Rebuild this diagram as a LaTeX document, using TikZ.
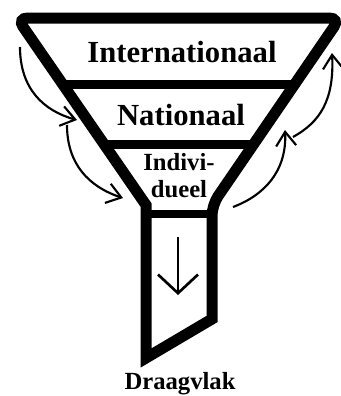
\documentclass[tikz,border=0pt]{standalone}
\usepackage{fontspec}
\setmainfont{Liberation Serif}
\usetikzlibrary{arrows.meta,bending,calc}

\begin{document}
\begin{tikzpicture}[x=0.75pt,y=-0.75pt,
  funnel/.style={line width=8.25pt,line join=miter},
  divider/.style={line width=6.75pt},
  neck/.style={line width=6pt},
  flow/.style={line width=1.6pt,-{Straight Barb[length=10.5pt,width=15pt]}},
  sink/.style={line width=2pt,-{Straight Barb[length=14pt,width=30pt]}},
  layer/.style={inner sep=0pt,font=\bfseries\fontsize{23}{26}\selectfont},
  sublayer/.style={inner sep=0pt,align=center,font=\bfseries\fontsize{18.5}{20.25}\selectfont}]
\path[use as bounding box] (0,0) rectangle (341,396);
\fill[white] (0,0) rectangle (341,396);
\coordinate (tl) at (17,18);
\coordinate (tr) at (340,18);
\coordinate (rb) at (212,205);
\coordinate (sr) at (212,319);
\coordinate (sl) at (146,358);
\coordinate (lb) at (146,205);
\draw[funnel] ($(tl)!0.5!(tr)$) [rounded corners=8pt] -- (tr) -- (rb) [sharp corners] -- (sr) -- (sl) -- (lb) [rounded corners=8pt] -- (tl) -- cycle;
\draw[divider] ($(tl)!0.358!(lb)$) -- ($(tr)!0.358!(rb)$);
\draw[divider] ($(tl)!0.674!(lb)$) -- ($(tr)!0.674!(rb)$);
\draw[neck] ($(lb)+(0,9)$) -- ($(rb)+(0,9)$);
\node[layer] (intl) at (182,52) {Internationaal};
\node[layer] (natl) at (181,115) {Nationaal};
\node[sublayer] (indiv) at (179,175.5) {Indivi-\\dueel};
\node[sublayer,anchor=base] (draag) at (180,389) {Draagvlak};
\coordinate (down1) at (178,237);
\coordinate (down2) at (178,295);
\draw[sink] (down1) -- (down2);
\coordinate (in1s) at (20,47);
\coordinate (in1e) at (77,120);
\coordinate (in2s) at (67,125);
\coordinate (in2e) at (123,198);
\coordinate (up1s) at (233,207);
\coordinate (up1e) at (285,130);
\coordinate (up2s) at (293,137);
\coordinate (up2e) at (332,53);
\draw[flow] (in1s) .. controls +(0,43) and +(-32,-8) .. (in1e);
\draw[flow] (in2s) .. controls +(0,40) and +(-33,-10) .. (in2e);
\draw[flow] (up1s) .. controls +(32,-12) and +(3,40) .. (up1e);
\draw[flow] (up2s) .. controls +(27,-15) and +(3,47) .. (up2e);
\end{tikzpicture}
\end{document}
